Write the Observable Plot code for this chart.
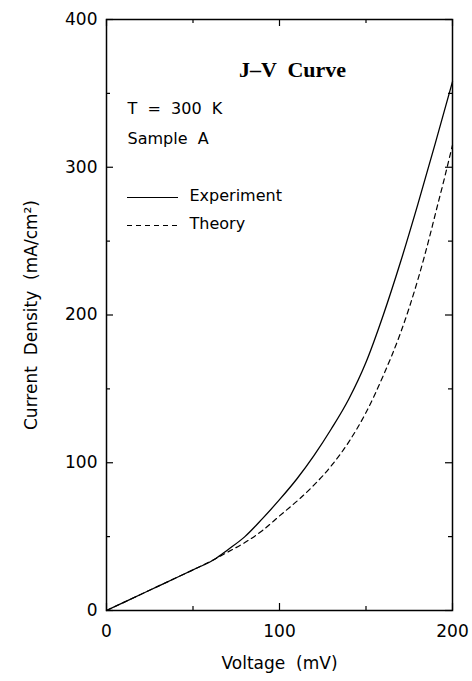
<!DOCTYPE html>
<html>
<head>
<meta charset="utf-8">
<script src="https://cdn.jsdelivr.net/npm/d3@7"></script>
<script src="https://cdn.jsdelivr.net/npm/@observablehq/plot@0.6"></script>
<style>
  html, body { margin: 0; padding: 0; background: #fff; }
  #chart svg { display: block; }
</style>
</head>
<body>
<div id="chart"></div>
<script>
// ---- data ----
const voltageExp = [0, 10, 20, 30, 40, 50, 63, 70, 80, 90, 100, 110, 120, 130, 140, 150, 160, 170, 180, 190, 200];
const currentExp = [0, 5.5, 11, 16.5, 22, 27.5, 35, 41, 50, 62, 75, 89, 105, 123, 143, 168, 200, 236, 275, 316, 358];
const voltageTh = [0, 10, 20, 30, 40, 50, 63, 70, 80, 90, 100, 112, 120, 130, 140, 150, 160, 170, 175, 180, 187, 190, 195, 200];
const currentTh = [0, 5.5, 11, 16.5, 22, 27.5, 35, 39.5, 46, 54, 64, 76, 85, 98, 114, 134, 159, 188, 205, 224, 254, 268, 291, 315];
const xMajor = [0, 100, 200];
const xMinor = [50, 150];
const yMajor = [0, 100, 200, 300, 400];
const yMinor = [50, 150, 250, 350];
const titleText = "J\u2013V  Curve";
const notes = ["T  =  300  K", "Sample  A"];
const seriesNames = ["Experiment", "Theory"];
const xLabel = "Voltage  (mV)";
const yLabel = "Current  Density  (mA/cm\u00B2)";

(function(){
  const W = 472, H = 681;
  const mL = 106, mR = 20, mT = 19, mB = 71;
  const iW = W - mL - mR, iH = H - mT - mB;
  const sans = "DejaVu Sans, Liberation Sans, sans-serif";
  const experiment = voltageExp.map((v, i) => ({v, j: currentExp[i]}));
  const theory = voltageTh.map((v, i) => ({v, j: currentTh[i]}));
  const noteDy = [94, 124];
  const legendDy = [178, 206];
  const legendDash = [null, "5,4"];
  const textStyle = {fontSize: 16, fill: "#000", fontFamily: sans};
  const tk = {stroke: "#000", strokeWidth: 1.2};
  const marks = [
    Plot.frame({stroke: "#000", strokeWidth: 1.5}),
    Plot.tickX(xMajor, {x: d => d, insetTop: iH - 7, ...tk}),
    Plot.tickX(xMajor, {x: d => d, insetBottom: iH - 7, ...tk}),
    Plot.tickX(xMinor, {x: d => d, insetTop: iH - 4, ...tk}),
    Plot.tickX(xMinor, {x: d => d, insetBottom: iH - 4, ...tk}),
    Plot.tickY(yMajor, {y: d => d, insetRight: iW - 7, ...tk}),
    Plot.tickY(yMajor, {y: d => d, insetLeft: iW - 7, ...tk}),
    Plot.tickY(yMinor, {y: d => d, insetRight: iW - 4, ...tk}),
    Plot.tickY(yMinor, {y: d => d, insetLeft: iW - 4, ...tk}),
    Plot.axisX({ticks: xMajor, tickSize: 0, tickPadding: 14, fontSize: 17, label: xLabel,
      labelAnchor: "center", labelOffset: 58, labelArrow: "none"}),
    Plot.axisY({ticks: yMajor, tickSize: 0, tickPadding: 9, fontSize: 17, label: yLabel,
      labelAnchor: "center", labelOffset: 82, labelArrow: "none"}),
    Plot.line(experiment, {x: "v", y: "j", stroke: "#000", strokeWidth: 1.3, curve: "monotone-x"}),
    Plot.line(theory, {x: "v", y: "j", stroke: "#000", strokeWidth: 1.2, strokeDasharray: "5,4", curve: "monotone-x"}),
    Plot.text([titleText], {frameAnchor: "top", text: d => d, dx: 13, dy: 57, lineAnchor: "bottom",
      fontFamily: "Liberation Serif, DejaVu Serif, serif", fontWeight: "bold", fontSize: 22, fill: "#000"})
  ];
  notes.forEach((t, i) => marks.push(Plot.text([t], {frameAnchor: "top-left", text: d => d,
    textAnchor: "start", lineAnchor: "bottom", dx: 21, dy: noteDy[i], ...textStyle})));
  seriesNames.forEach((t, i) => {
    marks.push(Plot.ruleY([400], {y: d => d, dy: legendDy[i], insetLeft: 21, insetRight: iW - 72,
      stroke: "#000", strokeWidth: 1.2, strokeDasharray: legendDash[i]}));
    marks.push(Plot.text([t], {frameAnchor: "top-left", text: d => d, textAnchor: "start",
      lineAnchor: "middle", dx: 83, dy: legendDy[i] - 2, ...textStyle}));
  });
  const chart = Plot.plot({
    width: W, height: H,
    marginLeft: mL, marginRight: mR, marginTop: mT, marginBottom: mB,
    style: {fontFamily: sans, color: "#000", background: "#fff"},
    x: {domain: [0, 200]},
    y: {domain: [0, 400]},
    marks
  });
  document.getElementById("chart").appendChild(chart);
})();
</script>
</body>
</html>
